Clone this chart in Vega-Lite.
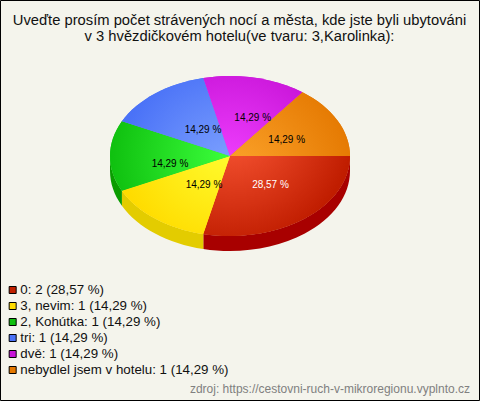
{"$schema":"https://vega.github.io/schema/vega-lite/v6.json","width":479,"height":400,"padding":{"left":0,"top":0,"right":1,"bottom":1},"autosize":"none","background":"#f4f4ec","view":{"stroke":"#000000","strokeWidth":1,"fill":"#f4f4ec"},"title":{"text":["Uveďte prosím počet strávených nocí a města, kde jste byli ubytováni","v 3 hvězdičkovém hotelu(ve tvaru: 3,Karolinka):"],"font":"Liberation Sans","fontSize":14.75,"fontWeight":"normal","color":"#111111","anchor":"middle","frame":"group","baseline":"top","orient":"top","offset":-44,"lineHeight":16},"data":{"values":[{"slice":"0","value":2,"pct":"28,57 %","legend":"0: 2 (28,57 %)"},{"slice":"3, nevim","value":1,"pct":"14,29 %","legend":"3, nevim: 1 (14,29 %)"},{"slice":"2, Kohútka","value":1,"pct":"14,29 %","legend":"2, Kohútka: 1 (14,29 %)"},{"slice":"tri","value":1,"pct":"14,29 %","legend":"tri: 1 (14,29 %)"},{"slice":"dvě","value":1,"pct":"14,29 %","legend":"dvě: 1 (14,29 %)"},{"slice":"nebydlel jsem v hotelu","value":1,"pct":"14,29 %","legend":"nebydlel jsem v hotelu: 1 (14,29 %)"}]},"encoding":{"x":{"datum":230,"type":"quantitative","scale":{"domain":[0,479],"range":[0,479]},"axis":null},"y":{"datum":156,"type":"quantitative","scale":{"domain":[0,400],"range":[0,400]},"axis":null}},"layer":[{"transform":[{"filter":"datum.slice==='0'"}],"mark":{"type":"point","filled":true,"opacity":1,"size":4,"fill":"#a80000","shape":"M120,0 A120,80 0 0,1 -26.7,78 L-26.7,93 A120,80 0 0,0 120,15 Z"}},{"transform":[{"filter":"datum.slice==='3, nevim'"}],"mark":{"type":"point","filled":true,"opacity":1,"size":4,"fill":"#e3cc00","shape":"M-26.7,78 A120,80 0 0,1 -108.1,34.7 L-108.1,49.7 A120,80 0 0,0 -26.7,93 Z"}},{"transform":[{"filter":"datum.slice==='2, Kohútka'"}],"mark":{"type":"point","filled":true,"opacity":1,"size":4,"fill":"#0a9c00","shape":"M-108.1,34.7 A120,80 0 0,1 -120,0 L-120,15 A120,80 0 0,0 -108.1,49.7 Z"}},{"mark":{"type":"point","filled":true,"opacity":1,"size":4},"encoding":{"shape":{"field":"slice","type":"nominal","legend":null,"scale":{"domain":["0","3, nevim","2, Kohútka","tri","dvě","nebydlel jsem v hotelu"],"range":["M0,0 L120,0 A120,80 0 0,1 -26.7,78 Z","M0,0 L-26.7,78 A120,80 0 0,1 -108.1,34.7 Z","M0,0 L-108.1,34.7 A120,80 0 0,1 -108.1,-34.7 Z","M0,0 L-108.1,-34.7 A120,80 0 0,1 -26.7,-78 Z","M0,0 L-26.7,-78 A120,80 0 0,1 72.5,-63.8 Z","M0,0 L72.5,-63.8 A120,80 0 0,1 120,0 Z"]}},"color":{"field":"legend","type":"nominal","scale":{"domain":["0: 2 (28,57 %)","3, nevim: 1 (14,29 %)","2, Kohútka: 1 (14,29 %)","tri: 1 (14,29 %)","dvě: 1 (14,29 %)","nebydlel jsem v hotelu: 1 (14,29 %)"],"range":["#c02000","#ffdc00","#0fc00f","#4a72f7","#c814d8","#e47800"]},"legend":{"orient":"none","legendX":6,"legendY":282,"title":null,"symbolType":"square","symbolSize":49,"symbolStrokeColor":"#000000","symbolStrokeWidth":1,"symbolOpacity":1,"labelFont":"Liberation Sans","labelFontSize":13.33,"labelColor":"#111111","labelLimit":0,"labelOffset":1,"rowPadding":0,"clipHeight":16,"padding":0}}}},{"transform":[{"filter":"datum.slice==='0'"}],"mark":{"type":"point","filled":true,"opacity":1,"size":4,"fill":{"gradient":"radial","x1":0.182,"y1":0,"r1":0,"x2":0.182,"y2":0,"r2":0.85,"stops":[{"offset":0,"color":"#ff5c3a"},{"offset":1,"color":"#c01d00"}]}},"encoding":{"shape":{"field":"slice","type":"nominal","legend":null}}},{"transform":[{"filter":"datum.slice==='3, nevim'"}],"mark":{"type":"point","filled":true,"opacity":1,"size":4,"fill":{"gradient":"radial","x1":1,"y1":0,"r1":0,"x2":1,"y2":0,"r2":1.05,"stops":[{"offset":0,"color":"#ffff33"},{"offset":1,"color":"#ffdc00"}]}},"encoding":{"shape":{"field":"slice","type":"nominal","legend":null}}},{"transform":[{"filter":"datum.slice==='2, Kohútka'"}],"mark":{"type":"point","filled":true,"opacity":1,"size":4,"fill":{"gradient":"radial","x1":1,"y1":0.5,"r1":0,"x2":1,"y2":0.5,"r2":1,"stops":[{"offset":0,"color":"#3cff3c"},{"offset":1,"color":"#0fc00f"}]}},"encoding":{"shape":{"field":"slice","type":"nominal","legend":null}}},{"transform":[{"filter":"datum.slice==='tri'"}],"mark":{"type":"point","filled":true,"opacity":1,"size":4,"fill":{"gradient":"radial","x1":1,"y1":1,"r1":0,"x2":1,"y2":1,"r2":1.05,"stops":[{"offset":0,"color":"#80a4ff"},{"offset":1,"color":"#4a72f7"}]}},"encoding":{"shape":{"field":"slice","type":"nominal","legend":null}}},{"transform":[{"filter":"datum.slice==='dvě'"}],"mark":{"type":"point","filled":true,"opacity":1,"size":4,"fill":{"gradient":"radial","x1":0.263,"y1":1,"r1":0,"x2":0.263,"y2":1,"r2":1.1,"stops":[{"offset":0,"color":"#f040ff"},{"offset":1,"color":"#c814d8"}]}},"encoding":{"shape":{"field":"slice","type":"nominal","legend":null}}},{"transform":[{"filter":"datum.slice==='nebydlel jsem v hotelu'"}],"mark":{"type":"point","filled":true,"opacity":1,"size":4,"fill":{"gradient":"radial","x1":0,"y1":1,"r1":0,"x2":0,"y2":1,"r2":1.1,"stops":[{"offset":0,"color":"#ffa830"},{"offset":1,"color":"#e47800"}]}},"encoding":{"shape":{"field":"slice","type":"nominal","legend":null}}},{"transform":[{"filter":"datum.slice==='0'"}],"mark":{"type":"text","font":"Liberation Sans","fontSize":10,"color":"#ffffff","align":"center","baseline":"middle","dx":40.5,"dy":29},"encoding":{"text":{"field":"pct"}}},{"transform":[{"filter":"datum.slice==='3, nevim'"}],"mark":{"type":"text","font":"Liberation Sans","fontSize":10,"color":"#000000","align":"center","baseline":"middle","dx":-26,"dy":29},"encoding":{"text":{"field":"pct"}}},{"transform":[{"filter":"datum.slice==='2, Kohútka'"}],"mark":{"type":"text","font":"Liberation Sans","fontSize":10,"color":"#000000","align":"center","baseline":"middle","dx":-60,"dy":7.5},"encoding":{"text":{"field":"pct"}}},{"transform":[{"filter":"datum.slice==='tri'"}],"mark":{"type":"text","font":"Liberation Sans","fontSize":10,"color":"#000000","align":"center","baseline":"middle","dx":-27,"dy":-26},"encoding":{"text":{"field":"pct"}}},{"transform":[{"filter":"datum.slice==='dvě'"}],"mark":{"type":"text","font":"Liberation Sans","fontSize":10,"color":"#000000","align":"center","baseline":"middle","dx":22.7,"dy":-38},"encoding":{"text":{"field":"pct"}}},{"transform":[{"filter":"datum.slice==='nebydlel jsem v hotelu'"}],"mark":{"type":"text","font":"Liberation Sans","fontSize":10,"color":"#000000","align":"center","baseline":"middle","dx":56.7,"dy":-16},"encoding":{"text":{"field":"pct"}}},{"data":{"values":[{"source":"zdroj: https://cestovni-ruch-v-mikroregionu.vyplnto.cz"}]},"mark":{"type":"text","font":"Liberation Sans","fontSize":12,"color":"#808080","align":"right","baseline":"middle"},"encoding":{"x":{"datum":470},"y":{"datum":389},"text":{"field":"source"}}}]}
